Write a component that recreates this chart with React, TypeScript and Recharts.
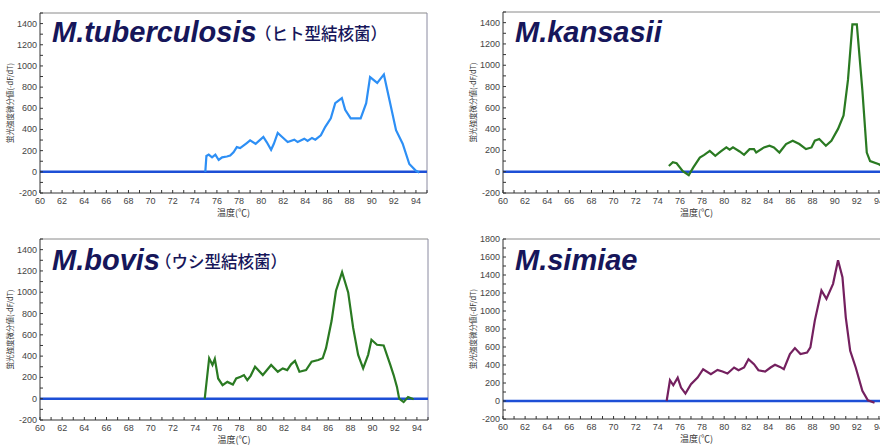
import React from 'react';
import { LineChart, Line, XAxis, YAxis, ReferenceLine } from 'recharts';

// ---------- tick labels ----------
const xTicks = [60, 61, 62, 63, 64, 65, 66, 67, 68, 69, 70, 71, 72, 73, 74, 75, 76, 77, 78, 79, 80, 81, 82, 83, 84, 85, 86, 87, 88, 89, 90, 91, 92, 93, 94, 95];
const yTicks1500 = [-200, -100, 0, 100, 200, 300, 400, 500, 600, 700, 800, 900, 1000, 1100, 1200, 1300, 1400, 1500];
const yTicks1800 = [-200, -100, 0, 100, 200, 300, 400, 500, 600, 700, 800, 900, 1000, 1100, 1200, 1300, 1400, 1500, 1600, 1700, 1800];

const xTitle = '温度(℃)';
const yTitle = '蛍光強度微分値(-dF/dT)';

// ---------- series ----------
const tubTemps = [74.95, 75.05, 75.26, 75.56, 75.86, 76.16, 76.47, 76.9, 77.2, 77.5, 77.8, 78.1, 78.7, 79.0, 79.5, 80.2, 80.5, 80.9, 81.15, 81.5, 81.9, 82.4, 83.0, 83.3, 83.9, 84.2, 84.6, 84.9, 85.4, 85.8, 86.3, 86.7, 87.3, 87.6, 88.1, 89.0, 89.5, 89.85, 90.5, 91.1, 91.6, 92.2, 92.8, 93.4, 94.0, 94.3];
const tubValues = [0, 150, 163, 137, 163, 112, 137, 145, 153, 185, 233, 224, 272, 297, 265, 329, 281, 208, 265, 367, 329, 281, 304, 281, 313, 291, 320, 304, 345, 425, 505, 649, 697, 585, 505, 505, 649, 895, 840, 920, 681, 393, 265, 74, 10, -6];

const kanTemps = [75.0, 75.36, 75.7, 76.26, 76.8, 77.2, 77.8, 78.2, 78.7, 79.2, 79.7, 80.2, 80.5, 80.8, 81.4, 81.8, 82.3, 82.7, 82.9, 83.6, 84.1, 84.5, 85.0, 85.6, 86.2, 86.8, 87.4, 87.9, 88.2, 88.6, 89.2, 89.7, 90.3, 90.8, 91.2, 91.6, 92.0, 92.5, 92.9, 93.2, 94.0, 94.5, 95.0];
const kanValues = [54, 89, 79, 6, -32, 38, 133, 158, 196, 149, 190, 228, 206, 228, 190, 158, 212, 212, 180, 228, 244, 228, 180, 260, 291, 260, 212, 228, 291, 307, 244, 291, 402, 529, 862, 1384, 1384, 767, 180, 100, 70, 40, 15];

const bovTemps = [74.86, 75.26, 75.56, 75.77, 76.07, 76.47, 76.9, 77.4, 77.7, 78.1, 78.4, 78.7, 79.0, 79.4, 80.1, 80.85, 81.45, 81.9, 82.3, 82.65, 83.0, 83.4, 84.0, 84.5, 85.1, 85.5, 85.8, 86.3, 86.7, 87.25, 87.8, 88.25, 88.7, 89.15, 89.6, 89.9, 90.4, 91.0, 91.6, 91.9, 92.2, 92.4, 92.8, 93.2, 93.7];
const bovValues = [0, 380, 317, 374, 190, 127, 158, 133, 190, 206, 222, 174, 215, 301, 222, 317, 253, 285, 269, 323, 355, 253, 269, 348, 364, 380, 475, 729, 1014, 1188, 998, 665, 412, 285, 412, 554, 507, 500, 317, 222, 111, 0, -32, 16, -6];

const simTemps = [74.8, 75.1, 75.4, 75.8, 76.1, 76.5, 77.0, 77.6, 78.1, 78.8, 79.4, 79.85, 80.3, 80.9, 81.3, 81.8, 82.2, 82.7, 83.1, 83.7, 84.2, 84.6, 85.05, 85.4, 85.95, 86.4, 86.9, 87.5, 87.8, 88.2, 88.8, 89.25, 89.85, 90.3, 90.7, 91.0, 91.4, 91.9, 92.5, 93.0, 93.6];
const simValues = [0, 231, 175, 260, 149, 82, 186, 260, 353, 298, 346, 327, 305, 372, 342, 372, 465, 409, 342, 327, 372, 402, 379, 353, 521, 588, 521, 539, 595, 893, 1228, 1135, 1302, 1563, 1376, 930, 558, 372, 112, 7, -19];

const zip = (temps: number[], values: number[]) => temps.map((t, i) => ({ t, v: values[i] }));

const tickFont = '"Liberation Sans Narrow", "Liberation Sans", Arial, sans-serif';
const cjkFont = '"Noto Sans CJK JP", "Noto Sans", sans-serif';

const XTick = (props: any) => {
  const { x, y, payload } = props;
  const v = payload.value;
  return (
    <g>
      <line x1={x} y1={y} x2={x} y2={y - 3} stroke="#333" strokeWidth={1} />
      {v % 2 === 0 ? (
        <text x={x} y={y + 11} textAnchor="middle" fontSize={9} fill="#444" fontFamily={tickFont}>
          {v}
        </text>
      ) : null}
    </g>
  );
};

const YTick = (props: any) => {
  const { x, y, payload } = props;
  const v = payload.value;
  return (
    <g>
      <line x1={x} y1={y} x2={x + 3} y2={y} stroke="#333" strokeWidth={1} />
      {v % 200 === 0 ? (
        <text x={x - 3} y={y + 3} textAnchor="end" fontSize={9} fill="#444" fontFamily={tickFont}>
          {v}
        </text>
      ) : null}
    </g>
  );
};

type PanelProps = {
  left: number;
  top: number;
  width: number;
  plotHeight: number;
  data: { t: number; v: number }[];
  color: string;
  yMax: number;
  yTicks: number[];
};

const PAD = 8;

const Panel = ({ left, top, width, plotHeight, data, color, yMax, yTicks }: PanelProps) => (
  <div style={{ position: 'absolute', left, top: top - PAD }}>
    <LineChart width={width} height={plotHeight + 28 + PAD} data={data} margin={{ top: PAD, right: 3, bottom: 0, left: 0 }}>
      <XAxis
        dataKey="t"
        type="number"
        domain={[60, 95]}
        ticks={xTicks}
        interval={0}
        allowDataOverflow
        tickSize={0}
        tickMargin={0}
        tickLine={false}
        tick={<XTick />}
        axisLine={{ stroke: '#333', strokeWidth: 1 }}
        height={28}
        label={{ value: xTitle, position: 'insideBottom', offset: 5, fontSize: 9, fill: '#333', fontFamily: cjkFont }}
      />
      <YAxis
        type="number"
        domain={[-200, yMax]}
        ticks={yTicks}
        interval={0}
        allowDataOverflow
        tickSize={0}
        tickMargin={0}
        tickLine={false}
        tick={<YTick />}
        axisLine={{ stroke: '#333', strokeWidth: 1 }}
        width={40}
        label={{
          value: yTitle,
          angle: -90,
          position: 'insideLeft',
          offset: 10,
          fontSize: 7.5,
          fill: '#333',
          fontFamily: cjkFont,
          style: { textAnchor: 'middle' },
        }}
      />
      <ReferenceLine y={yMax} stroke="#8a8a8a" strokeWidth={1} />
      <ReferenceLine x={95} stroke="#8a8aa0" strokeWidth={1} />
      <ReferenceLine y={0} stroke="#1d4fd6" strokeWidth={2.5} />
      <Line
        type="linear"
        dataKey="v"
        stroke={color}
        strokeWidth={2.2}
        dot={false}
        isAnimationActive={false}
      />
    </LineChart>
  </div>
);

const titleFont = '"Liberation Sans", Arial, sans-serif';
const titleColor = '#16165a';

export default function App() {
  return (
    <div style={{ position: 'absolute', left: 0, top: 0, width: 880, height: 445, overflow: 'hidden', background: '#fff' }}>
      <Panel left={0} top={13} width={430} plotHeight={180} data={zip(tubTemps, tubValues)} color="#2d8ff5" yMax={1500} yTicks={yTicks1500} />
      <Panel left={463} top={12} width={430} plotHeight={181} data={zip(kanTemps, kanValues)} color="#2a7a22" yMax={1500} yTicks={yTicks1500} />
      <Panel left={0} top={239} width={431} plotHeight={181} data={zip(bovTemps, bovValues)} color="#2a7a22" yMax={1500} yTicks={yTicks1500} />
      <Panel left={463} top={239} width={430} plotHeight={180} data={zip(simTemps, simValues)} color="#74205f" yMax={1800} yTicks={yTicks1800} />
      <svg width={880} height={445} style={{ position: 'absolute', left: 0, top: 0, pointerEvents: 'none' }}>
        <g fontFamily={titleFont} fontWeight="bold" fontStyle="italic" fontSize={29} fill={titleColor}>
          <text x={52} y={42}>M.tuberculosis</text>
          <text x={515} y={42}>M.kansasii</text>
          <text x={52} y={270}>M.bovis</text>
          <text x={515} y={270}>M.simiae</text>
        </g>
        <g fontFamily={cjkFont} fontWeight={500} fontSize={16.5} fill={titleColor}>
          <text x={255} y={40}>（ヒト型結核菌）</text>
          <text x={155} y={268}>（ウシ型結核菌）</text>
        </g>
      </svg>
    </div>
  );
}
